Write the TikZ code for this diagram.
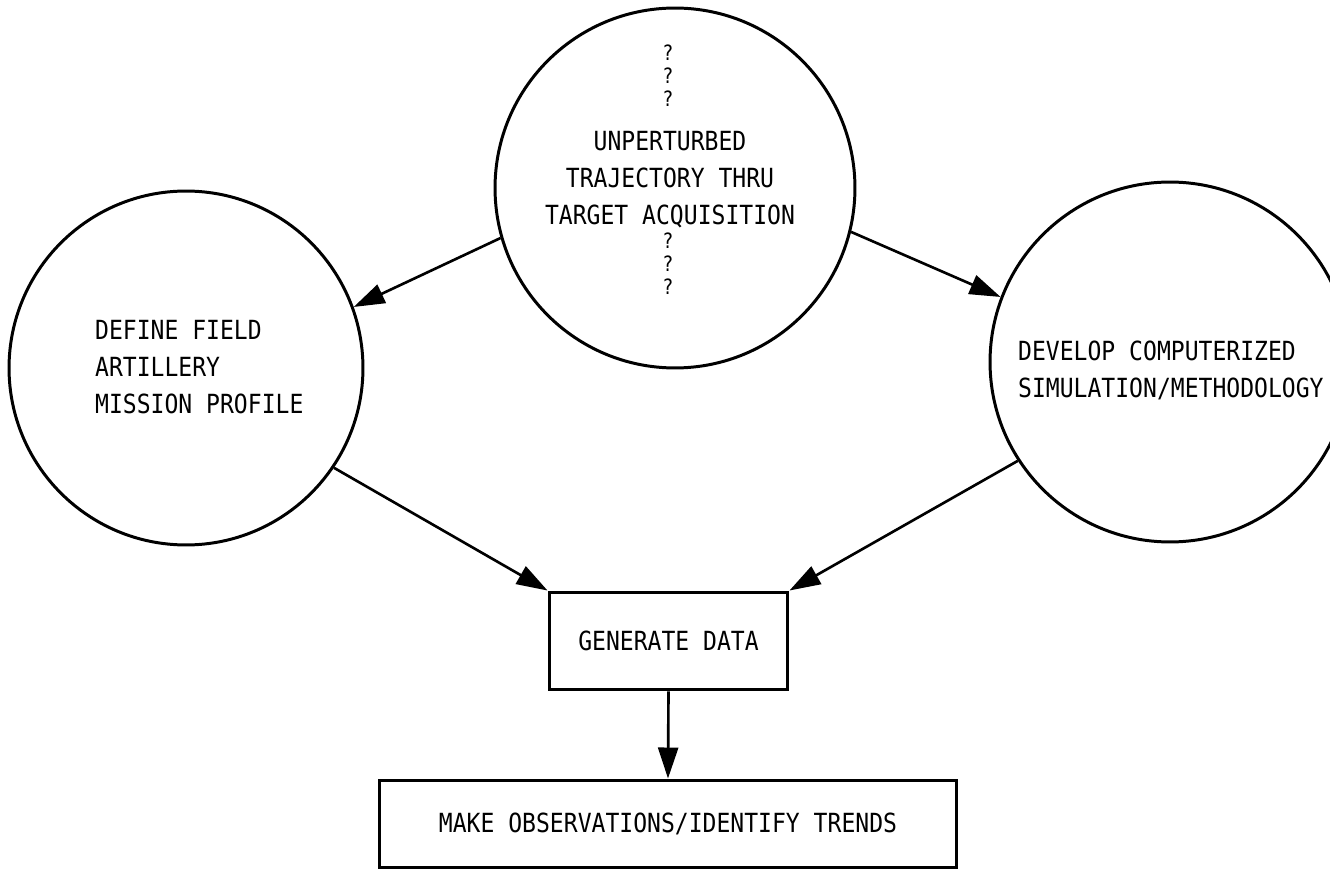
\documentclass[tikz,border=0pt]{standalone}
\usepackage{fontspec}
\newfontfamily\printfont{DejaVu Sans Mono}[FakeStretch=0.875]
\usetikzlibrary{arrows.meta}
\tikzset{
>={Triangle[length=0.62cm,width=0.4cm]}, % large filled heads as on the chart
flow/.style={draw, ->}, % a directed connector
every node/.style={font=\printfont\fontsize{15pt}{21pt}\selectfont}, % line printer look
phase/.style={circle, draw, line width=1.7pt, inner sep=0pt}, % the three round phases
stepbox/.style={rectangle, draw, line width=1.7pt, inner sep=0pt}, % the two boxed steps
quest/.style={align=center, inner sep=0pt, font=\printfont\fontsize{12pt}{13pt}\selectfont}, % stacked question marks
}

\begin{document}
\begin{tikzpicture}[x=0.02cm, y=-0.02cm, line width=1.5pt]
                \useasboundingbox (0,0) rectangle (1330,871);
                \clip (0,0) rectangle (1330,871);
                \node[phase, minimum size=7.2cm] (traj) at (675,188) {};
                \node[phase, minimum size=7.08cm] (field) at (186,368) {};
                \node[phase, minimum size=7.2cm] (sim) at (1170,362) {};
                \node[stepbox, minimum width=4.78cm, minimum height=1.96cm] (gen) at (668.5,641) {GENERATE DATA};
                \node[stepbox, minimum width=11.54cm, minimum height=1.76cm] (obs) at (668,824) {MAKE OBSERVATIONS/IDENTIFY TRENDS};
                % texts of the round phases
                \node[quest] (qtop) at (668,76) {?\\?\\?};
                \node[align=center, inner sep=0pt] (trajtext) at (670,180) {UNPERTURBED\\TRAJECTORY THRU\\TARGET ACQUISITION};
                \node[quest] (qbot) at (668,264) {?\\?\\?};
                \node[align=left, anchor=west] (fieldtext) at (88,367) {DEFINE FIELD\\ARTILLERY\\MISSION PROFILE};
                \node[align=left, anchor=west] (simtext) at (1011,370) {DEVELOP COMPUTERIZED\\SIMULATION/METHODOLOGY};
                \path
                    (traj.196) edge[flow] (field.20)
                    (traj.-14) edge[flow] (sim.159)
                    (field.-34) edge[flow] (gen.north west)
                    (sim.213) edge[flow] (gen.north east)
                    (gen.south) edge[flow] (obs.north)
                    ;
            \end{tikzpicture}
\end{document}
